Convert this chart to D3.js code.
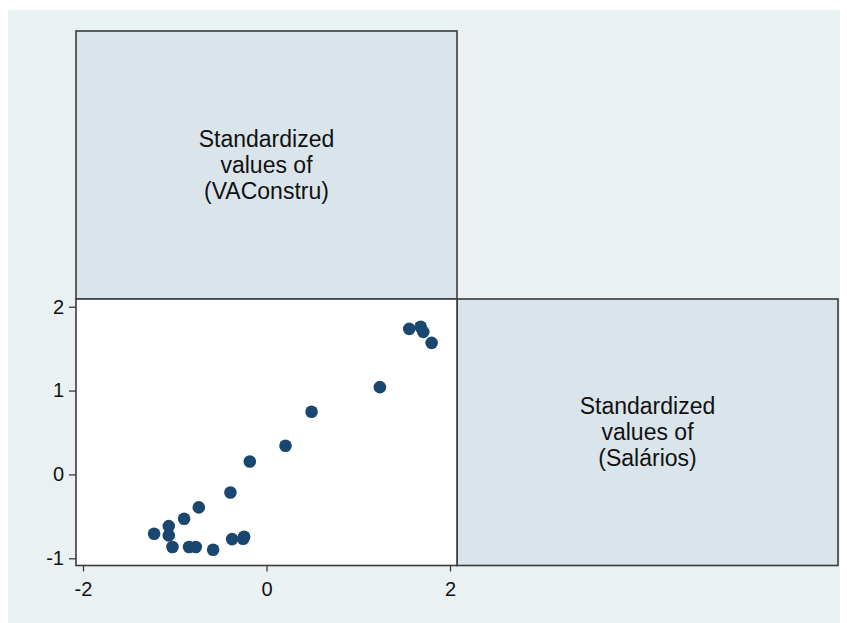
<!DOCTYPE html>
<html><head><meta charset="utf-8">
<script src="https://d3js.org/d3.v7.min.js"></script>
<style>body{margin:0;background:#fff}svg{display:block}</style>
</head><body>
<script>
const varLabels = [
  ["Standardized", "values of", "(VAConstru)"],
  ["Standardized", "values of", "(Salários)"]
];
const salarios = [-1.225,-1.065,-1.065,-1.025,-0.898,-0.844,-0.771,-0.738,-0.582,-0.393,-0.375,-0.244,-0.255,-0.182,0.207,0.491,1.236,1.556,1.68,1.709,1.80];
const vaconstru = [-0.707,-0.616,-0.727,-0.866,-0.528,-0.866,-0.866,-0.393,-0.898,-0.215,-0.771,-0.743,-0.767,0.155,0.342,0.747,1.041,1.736,1.76,1.70,1.569];
const xTicks = [-2, 0, 2];
const yTicks = [-1, 0, 1, 2];

const W = 847, H = 623;
const svg = d3.select("body").append("svg").attr("width", W).attr("height", H);
const font = "'Liberation Sans', Arial, Helvetica, sans-serif";

svg.append("rect").attr("x", 8).attr("y", 10).attr("width", 832).attr("height", H - 10).attr("fill", "#eaf1f3");

const L = 76, M = 457, R = 838, T = 31, Mid = 299, B = 565.5;
const x = d3.scaleLinear().domain([-2, 2]).range([83, 450]);
const y = d3.scaleLinear().domain([-1, 2]).range([558.3, 306.7]);

// diagonal label cells
const cells = [
  {x0: L, y0: T, x1: M, y1: Mid, lab: varLabels[0]},
  {x0: M, y0: Mid, x1: R, y1: B, lab: varLabels[1]}
];
cells.forEach(c => {
  svg.append("rect").attr("x", c.x0).attr("y", c.y0).attr("width", c.x1 - c.x0).attr("height", c.y1 - c.y0)
    .attr("fill", "#d9e5eb").attr("stroke", "#3a3a3a").attr("stroke-width", 1.6);
  const cx = (c.x0 + c.x1) / 2, cy = (c.y0 + c.y1) / 2;
  const lh = 26;
  c.lab.forEach((s, i) => {
    svg.append("text").attr("text-anchor", "middle").attr("font-family", font)
      .attr("font-size", 23).attr("fill", "#111")
      .attr("x", cx).attr("y", cy + (i - 1) * lh + 7.5).text(s);
  });
});

// scatter cell
svg.append("rect").attr("x", L).attr("y", Mid).attr("width", M - L).attr("height", B - Mid)
  .attr("fill", "#ffffff").attr("stroke", "#3a3a3a").attr("stroke-width", 1.6);

const xAxis = d3.axisBottom(x).tickValues(xTicks).tickSize(6).tickSizeOuter(0).tickFormat(d3.format("d"));
const gx = svg.append("g").attr("transform", `translate(0,${B})`).call(xAxis);
gx.select(".domain").remove();
gx.selectAll("line").attr("stroke", "#3a3a3a").attr("stroke-width", 1.3);
gx.selectAll("text").attr("font-family", font).attr("font-size", 20).attr("fill", "#111").attr("dy", "1.05em")
  .text(d => d < 0 ? "-" + Math.abs(d) : d);

const yAxis = d3.axisLeft(y).tickValues(yTicks).tickSize(7).tickSizeOuter(0);
const gy = svg.append("g").attr("transform", `translate(${L},0)`).call(yAxis);
gy.select(".domain").remove();
gy.selectAll("line").attr("stroke", "#3a3a3a").attr("stroke-width", 1.3);
gy.selectAll("text").attr("font-family", font).attr("font-size", 20).attr("fill", "#111").attr("x", -12)
  .text(d => d < 0 ? "-" + Math.abs(d) : d);

svg.append("g").selectAll("circle").data(salarios.map((v, i) => [v, vaconstru[i]])).join("circle")
  .attr("cx", d => x(d[0])).attr("cy", d => y(d[1])).attr("r", 6.3).attr("fill", "#1a476f");
</script>
</body></html>
